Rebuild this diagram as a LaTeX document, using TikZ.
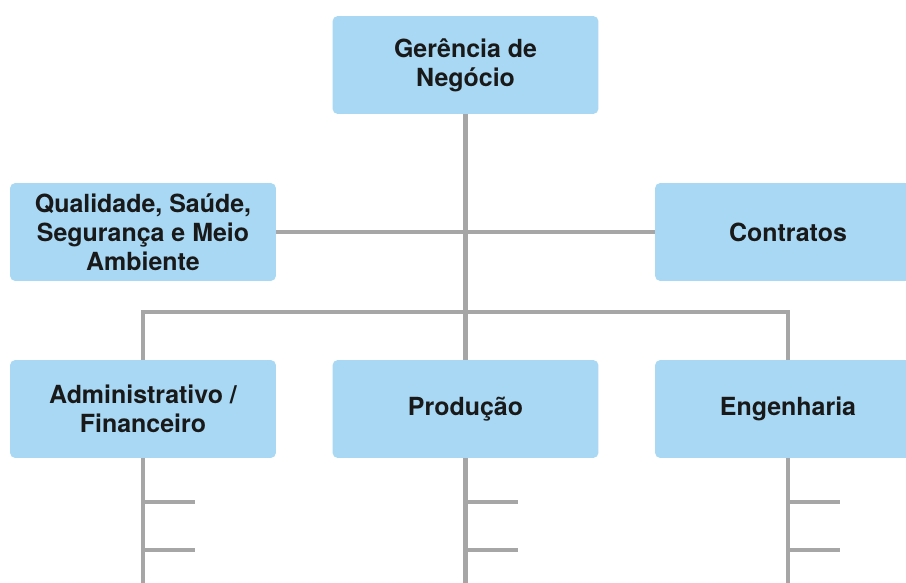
\documentclass[tikz,border=0pt]{standalone}
\usepackage{fontspec}
\setmainfont{TeX Gyre Heros}
\usetikzlibrary{positioning}

\definecolor{boxblue}{HTML}{A8D8F4}
\definecolor{linegray}{HTML}{A6A6A6}
\tikzset{
	unit/.style={fill=boxblue, rounded corners=3pt, minimum width=5.32cm,
		minimum height=1.96cm, align=center, text=black!90,
		font=\bfseries\fontsize{14.2}{16.5}\selectfont},
	link/.style={draw=linegray, line width=2.3pt}
}

\begin{document}
\begin{tikzpicture}[x=0.02cm, y=-0.02cm]
	\useasboundingbox (0,0) rectangle (906,582);
	\clip (0,0) rectangle (906,582);

	\node[unit] (GN) at (465.5,65) {Gerência de\\Negócio};
	\node[unit] (QS) at (143,232) {Qualidade, Saúde,\\Segurança e Meio\\Ambiente};
	\node[unit] (CT) at (788,232) {Contratos};
	\node[unit] (AF) at (143,409) {Administrativo /\\Financeiro};
	\node[unit] (PR) at (465.5,409) {Produção};
	\node[unit] (EN) at (788,409) {Engenharia};

	\coordinate (bus) at (465.5,312);

	\draw[link] (GN) -- (PR);
	\draw[link] (QS) -- (CT);
	\draw[link] (AF.north) |- (bus) -| (EN.north);

	% sub-levels under each area
	\foreach \n in {AF,PR,EN} {
		\coordinate (\n end) at (\n.south |- 0,590);
		\draw[link] (\n.south) -- (\n end);
		\draw[link] (\n.south |- 0,502) -- ++(52,0);
		\draw[link] (\n.south |- 0,550) -- ++(52,0);
	}
\end{tikzpicture}
\end{document}
